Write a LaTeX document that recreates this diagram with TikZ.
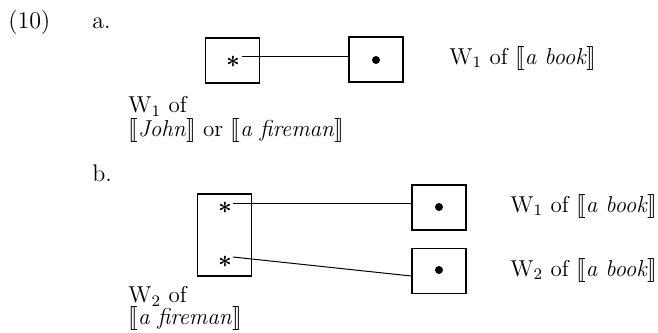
\documentclass[tikz,border=0pt]{standalone}
\usepackage{stmaryrd}
\begin{document}
\begin{tikzpicture}[x=0.5pt,y=-0.5pt,
  box/.style={draw, line width=0.75pt, inner sep=0pt, minimum width=27pt, minimum height=22.5pt},
  tall/.style={box, minimum height=41pt},
  lbl/.style={anchor=base west, inner sep=0pt, font=\fontsize{11.5}{12}\selectfont},
  two/.style={anchor=north west, inner sep=0pt, align=left, font=\fontsize{11.5}{10}\selectfont},
  star/.style={inner sep=0pt, font=\fontsize{13}{14}\selectfont\boldmath},
  dot/.style={circle, fill, inner sep=0pt, minimum size=4pt},
  conn/.style={line width=0.5pt}]
\useasboundingbox (0,0) rectangle (658,332);
% labels
\node[lbl, font=\fontsize{12}{13}\selectfont] (n10) at (8,28) {(10)};
\node[lbl, font=\fontsize{12}{13}\selectfont] (la) at (92,28) {a.};
\node[lbl, font=\fontsize{12}{13}\selectfont] (lb) at (92,181) {b.};
% part a
\node[box] (aL) at (232.5,60.5) {};
\node[star] (aS) at (233,62) {$*$};
\node[box] (aR) at (376,59.5) {};
\node[dot] (aD) at (376,60) {};
\coordinate (aC1) at (242,56);
\coordinate (aC2) at (349,56);
\draw[conn] (aC1) -- (aC2);
\node[lbl] (aT) at (449,64) {W$_1$ of $\llbracket$\textit{a book}$\rrbracket$};
\node[two] (aW) at (128,96) {W$_1$ of\\ $\llbracket$\textit{John}$\rrbracket$ or $\llbracket$\textit{a fireman}$\rrbracket$};
% part b
\node[tall] (bL) at (224.5,235) {};
\node[star] (bS1) at (225,208) {$*$};
\node[star] (bS2) at (225,262) {$*$};
\node[box] (bR1) at (439,207.5) {};
\node[box] (bR2) at (439,271) {};
\node[dot] (bD1) at (439,207) {};
\node[dot] (bD2) at (439,270) {};
\coordinate (bC1) at (233,203);
\coordinate (bC2) at (233,257);
\draw[conn] (bC1) -- (bC1 -| bR1.west);
\draw[conn] (bC2) -- ([yshift=-2.5pt]bR2.west);
\node[lbl] (bT1) at (510,212) {W$_1$ of $\llbracket$\textit{a book}$\rrbracket$};
\node[lbl] (bT2) at (510,276) {W$_2$ of $\llbracket$\textit{a book}$\rrbracket$};
\node[two, font=\fontsize{11.5}{11}\selectfont] (bW) at (128,286) {W$_2$ of\\ $\llbracket$\textit{a fireman}$\rrbracket$};
\end{tikzpicture}
\end{document}
